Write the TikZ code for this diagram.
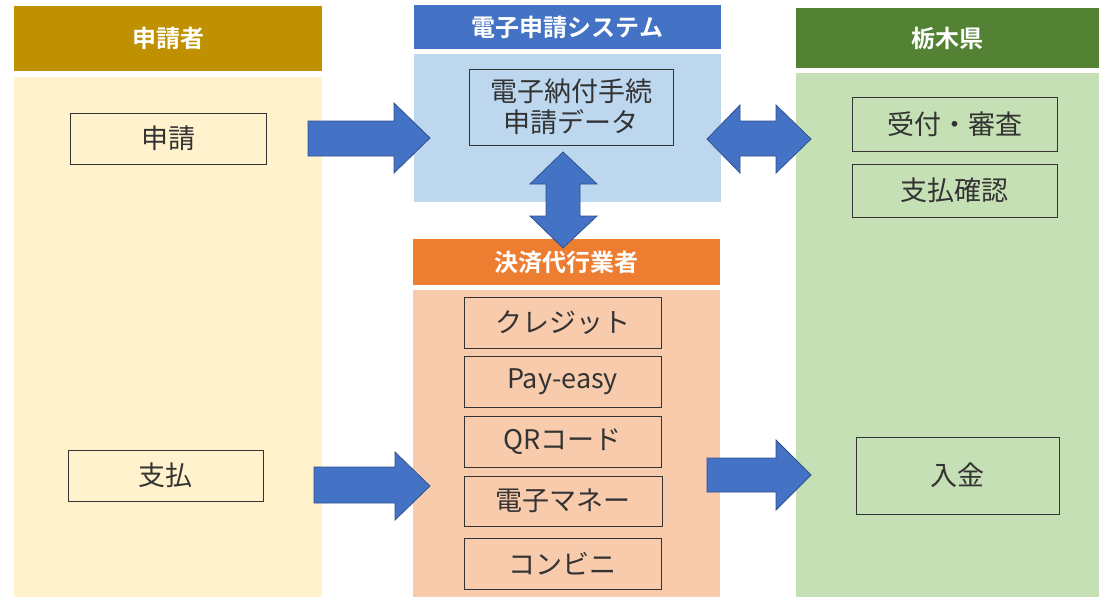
\documentclass[tikz,border=0pt]{standalone}
\usepackage{fontspec}
\setmainfont{Noto Sans CJK JP}[BoldFont={Noto Sans CJK JP Bold}]
\definecolor{goldH}{HTML}{BF9000}
\definecolor{goldB}{HTML}{FFF2CC}
\definecolor{blueH}{HTML}{4472C4}
\definecolor{blueB}{HTML}{BDD7EE}
\definecolor{orgH}{HTML}{ED7D31}
\definecolor{orgB}{HTML}{F8CBAD}
\definecolor{grnH}{HTML}{548235}
\definecolor{grnB}{HTML}{C5E0B4}
\definecolor{arrF}{HTML}{4472C4}
\definecolor{arrD}{HTML}{2F528F}
\definecolor{txt}{HTML}{333333}
\begin{document}
\begin{tikzpicture}[x=1pt,y=-1pt,
  area/.style={anchor=north west,inner sep=0pt,outer sep=0pt},
  head/.style={area,text=white,font=\bfseries\fontsize{24}{27}\selectfont},
  box/.style={draw=txt,line width=0.8pt,inner sep=0pt,outer sep=0pt,text=txt,font=\fontsize{27}{31}\selectfont,align=center},
  blk/.style={fill=arrF,draw=arrD,line width=0.8pt,line join=miter}]
\useasboundingbox (0,0) rectangle (1099,597);
% columns
\node[area,fill=goldH,minimum width=308pt,minimum height=65pt] (hA) at (14,6) {};
\node[head] at (hA.center) [anchor=center] {申請者};
\node[area,fill=goldB,minimum width=308pt,minimum height=520pt] (bA) at (14,77) {};
\node[area,fill=blueH,minimum width=307pt,minimum height=44pt] (hB) at (414,5) {};
\node[head] at (hB.center) [anchor=center] {電子申請システム};
\node[area,fill=blueB,minimum width=307pt,minimum height=148pt] (bB) at (414,54) {};
\node[area,fill=orgH,minimum width=307pt,minimum height=46pt] (hC) at (413,239) {};
\node[head] at (hC.center) [anchor=center] {決済代行業者};
\node[area,fill=orgB,minimum width=307pt,minimum height=307pt] (bC) at (413,290) {};
\node[area,fill=grnH,minimum width=303pt,minimum height=60pt] (hD) at (796,8) {};
\node[head] at (hD.center) [anchor=center] {栃木県};
\node[area,fill=grnB,minimum width=303pt,minimum height=524pt] (bD) at (796,73) {};
% boxes
\node[box,minimum width=196pt,minimum height=51pt] (shinsei) at (168,138.5) {申請};
\node[box,minimum width=195pt,minimum height=51pt] (shiharai) at (165.5,475.5) {支払};
\node[box,minimum width=204pt,minimum height=76pt] (data) at (571,107) {電子納付手続\\申請データ};
\node[box,minimum width=205pt,minimum height=54pt] (uketsuke) at (954.5,124) {受付・審査};
\node[box,minimum width=205pt,minimum height=53pt] (kakunin) at (954.5,190.5) {支払確認};
\node[box,minimum width=203pt,minimum height=77pt] (nyukin) at (957.5,475.5) {入金};
\node[box,minimum width=197pt,minimum height=51pt] (credit) at (562.5,322.5) {クレジット};
\node[box,minimum width=197pt,minimum height=51pt] (payeasy) at (562.5,381.5) {Pay-easy};
\node[box,minimum width=197pt,minimum height=51pt] (qr) at (562.5,441.5) {QRコード};
\node[box,minimum width=198pt,minimum height=50pt] (emoney) at (563,501) {電子マネー};
\node[box,minimum width=197pt,minimum height=51pt] (conv) at (562.5,563.5) {コンビニ};
% block arrows
\draw[blk] (308,121) -- (394,121) -- (394,103) -- (430,138) -- (394,173) -- (394,156) -- (308,156) -- cycle;
\draw[blk] (563,152) -- (597,184) -- (580,184) -- (580,216) -- (597,216) -- (563,248) -- (530,216) -- (546,216) -- (546,184) -- (530,184) -- cycle;
\draw[blk] (707,139) -- (740,105) -- (740,121) -- (776,121) -- (776,105) -- (811,139) -- (776,173) -- (776,156) -- (740,156) -- (740,173) -- cycle;
\draw[blk] (314,467) -- (395,467) -- (395,452) -- (430,486) -- (395,520) -- (395,503) -- (314,503) -- cycle;
\draw[blk] (707,458) -- (776,458) -- (776,440) -- (811,475) -- (776,510) -- (776,492) -- (707,492) -- cycle;
\end{tikzpicture}
\end{document}
